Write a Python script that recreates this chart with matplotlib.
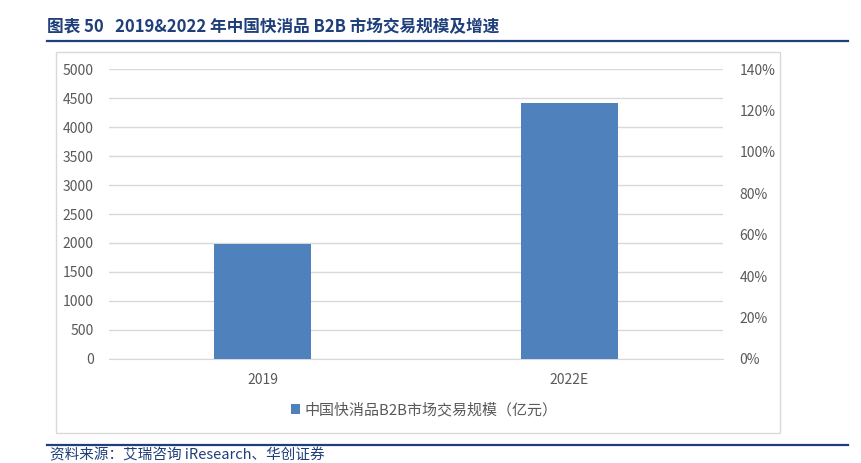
import matplotlib.pyplot as plt
from matplotlib.patches import Rectangle
from matplotlib.lines import Line2D

plt.rcParams['font.family'] = ['Noto Sans CJK SC', 'DejaVu Sans']

# data
years = ['2019', '2022E']
scale = [1988, 4420]          # 亿元
left_ticks = list(range(0, 5001, 500))
right_ticks = [0, 0.2, 0.4, 0.6, 0.8, 1.0, 1.2, 1.4]

title = '图表 50   2019&2022 年中国快消品 B2B 市场交易规模及增速'
legend_label = '中国快消品B2B市场交易规模（亿元）'
source = '资料来源：艾瑞咨询 iResearch、华创证券'

W, H = 862, 463
fig = plt.figure(figsize=(W / 100, H / 100), dpi=100)

navy = '#1F3F7A'
grey_txt = '#595959'
grid_c = '#D9D9D9'
bar_c = '#4F81BD'

# title and rules
fig.text(47 / W, 1 - 27 / H, title, fontsize=12, fontweight='bold',
         color=navy, va='center', ha='left')
fig.add_artist(Line2D([47 / W, 848 / W], [1 - 40.5 / H] * 2, color=navy, lw=1.6))
fig.add_artist(Line2D([47 / W, 848 / W], [1 - 444.5 / H] * 2, color=navy, lw=1.6))
fig.text(50 / W, 1 - 455 / H, source, fontsize=10.5, style='italic',
         color=navy, va='center', ha='left')

# chart frame
fig.add_artist(Rectangle((56 / W, 1 - 433 / H), (780 - 56) / W, (433 - 52) / H,
                         fill=False, edgecolor=grid_c, lw=1))

ax = fig.add_axes([109 / W, 1 - 358.7 / H, (723 - 109) / W, (358.7 - 69.3) / H])
x = range(len(years))
bars = ax.bar(x, scale, width=0.313, color=bar_c, label=legend_label, zorder=3)
ax.set_xlim(-0.5, 1.5)
ax.set_ylim(0, 5000)
ax.set_yticks(left_ticks)
ax.set_xticks(list(x))
ax.set_xticklabels(years)
ax.grid(axis='y', color=grid_c, lw=1, zorder=0)
for s in ['top', 'right', 'left']:
    ax.spines[s].set_visible(False)
ax.spines['bottom'].set_color(grid_c)
ax.tick_params(length=0, colors=grey_txt, labelsize=10)
ax.tick_params(axis='y', pad=11)
ax.tick_params(axis='x', pad=10)

ax2 = ax.twinx()
ax2.set_ylim(0, 1.4)
ax2.set_yticks(right_ticks)
ax2.set_yticklabels([f'{int(round(t * 100))}%' for t in right_ticks])
for s in ax2.spines.values():
    s.set_visible(False)
ax2.tick_params(length=0, colors=grey_txt, labelsize=10, pad=12)

fig.legend(handles=[bars], labels=[legend_label], loc='center',
           bbox_to_anchor=(424 / W, 1 - 410 / H), frameon=False,
           handlelength=0.6, handleheight=0.6, handletextpad=0.3,
           prop={'size': 10.8}, labelcolor=grey_txt)

fig.savefig('out.png', dpi=100)
